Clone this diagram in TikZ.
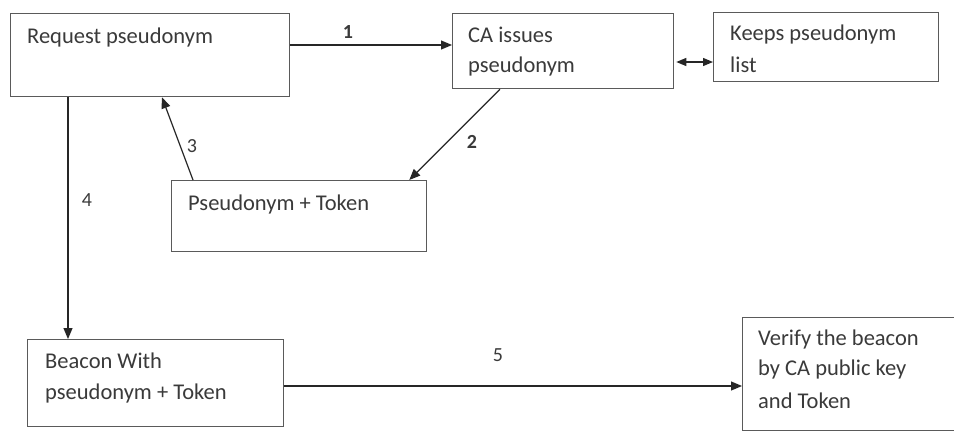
\documentclass[tikz,border=0pt]{standalone}
\usepackage{fontspec}
\setmainfont{Carlito}
\usetikzlibrary{arrows.meta,calc}
\definecolor{boxline}{HTML}{5A5A5A}
\definecolor{txtcol}{HTML}{3A3A3A}
\tikzset{
  box/.style={draw=boxline, line width=1.3pt, rectangle, inner sep=0pt, anchor=north west},
  txt/.style={text=txtcol, font=\fontsize{22.5}{30}\selectfont, anchor=base west, inner sep=0pt},
  lbl/.style={text=txtcol, font=\fontsize{20}{24}\selectfont, inner sep=0pt},
  conn/.style={draw=black!85, line width=1.2pt},
  arr/.style={conn, -{Triangle[length=11pt,width=9pt]}},
  darr/.style={conn, {Triangle[length=10pt,width=8pt]}-{Triangle[length=10pt,width=8pt]}},
}
\begin{document}
\begin{tikzpicture}[x=1pt,y=-1pt]
\clip (0,0) rectangle (954,431);
\fill[white] (0,0) rectangle (954,431);
% boxes
\node[box, minimum width=279pt, minimum height=83pt] (b1) at (10,13) {};
\node[box, minimum width=221pt, minimum height=75pt] (b2) at (452,13) {};
\node[box, minimum width=225pt, minimum height=69pt] (b3) at (713,12) {};
\node[box, minimum width=255pt, minimum height=71pt] (b4) at (171,180) {};
\node[box, minimum width=256pt, minimum height=87pt] (b5) at (27,339) {};
\node[box, minimum width=230pt, minimum height=113pt] (b6) at (742,317) {};
% texts
\node[txt] (t1) at (27,43) {Request pseudonym};
\node[txt] (t2a) at (468,42) {CA issues};
\node[txt] (t2b) at (468,72) {pseudonym};
\node[txt] (t3a) at (730,40) {Keeps pseudonym};
\node[txt] (t3b) at (730,72) {list};
\node[txt] (t4) at (188,210) {Pseudonym + Token};
\node[txt] (t5a) at (45,368) {Beacon With};
\node[txt] (t5b) at (45,399) {pseudonym + Token};
\node[txt] (t6a) at (758,345) {Verify the beacon};
\node[txt] (t6b) at (758,375) {by CA public key};
\node[txt] (t6c) at (758,408) {and Token};
% connectors
\draw[arr] ($(b1.north east)+(0,32)$) -- ($(b2.north west)+(0,32)$);
\draw[darr] ($(b2.north east)+(2,49)$) -- ($(b3.north west)+(0,50)$);
\draw[arr] ($(b2.south west)+(48,0)$) -- ($(b4.north east)+(-18,0)$);
\draw[arr] ($(b4.north west)+(22,0)$) -- ($(b1.south west)+(152,0)$);
\draw[arr] ($(b1.south west)+(58,0)$) -- ($(b5.north west)+(41,0)$);
\draw[arr] ($(b5.north east)+(0,47)$) -- ($(b6.north west)+(0,69)$);
% labels
\node[lbl, font=\bfseries\fontsize{20}{24}\selectfont] (l1) at (348,32) {1};
\node[lbl, font=\bfseries\fontsize{20}{24}\selectfont] (l2) at (472,142) {2};
\node[lbl] (l3) at (192,146) {3};
\node[lbl] (l4) at (87,200) {4};
\node[lbl] (l5) at (498,355) {5};
\end{tikzpicture}
\end{document}
